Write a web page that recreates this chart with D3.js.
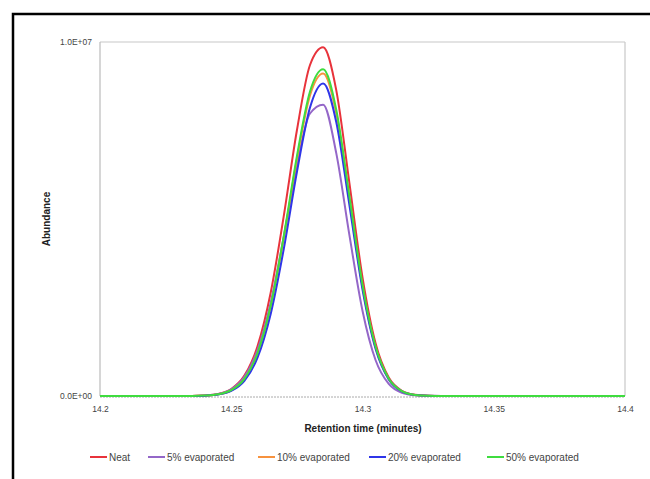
<!DOCTYPE html>
<html lang="en">
<head>
    <meta charset="UTF-8">
    <title>Retention time peak</title>
    <script src="https://d3js.org/d3.v7.min.js"></script>
    <style>
        body { margin: 0; padding: 0; background: #fff; }
        svg { display: block; font-family: "Liberation Sans", Arial, sans-serif; }
        .tick text { fill: #444; font-size: 8.5px; }
        .axis-title { font-size: 10px; font-weight: bold; fill: #222; }
        .legend text { font-size: 10px; fill: #444; }
    </style>
</head>
<body>
<div id="chart"></div>
<script>
    // retention times (minutes)
    const times = [14.2, 14.235, 14.24, 14.245, 14.25, 14.255, 14.26, 14.265, 14.27, 14.275, 14.28,
                   14.285, 14.29, 14.295, 14.3, 14.305, 14.31, 14.315, 14.32, 14.325, 14.33, 14.4];

    // abundance, in millions
    const neat   = [0, 0, 0.014, 0.058, 0.198, 0.575, 1.404, 2.91, 5.08, 7.50, 9.35, 9.85, 8.64, 6.02, 3.35, 1.48, 0.52, 0.147, 0.033, 0.006, 0.001, 0];
    const evap5  = [0, 0, 0.014, 0.057, 0.190, 0.540, 1.296, 2.63, 4.50, 6.51, 7.98, 8.23, 6.86, 4.55, 2.41, 1.01, 0.341, 0.091, 0.019, 0.003, 0, 0];
    const evap10 = [0, 0, 0.011, 0.047, 0.162, 0.479, 1.191, 2.50, 4.45, 6.68, 8.49, 9.11, 7.99, 5.57, 3.10, 1.37, 0.483, 0.136, 0.030, 0.005, 0.001, 0];
    const evap20 = [0, 0, 0.010, 0.041, 0.143, 0.429, 1.082, 2.31, 4.15, 6.32, 8.15, 8.83, 7.74, 5.40, 3.01, 1.33, 0.47, 0.132, 0.029, 0.005, 0.001, 0];
    const evap50 = [0, 0, 0.011, 0.047, 0.164, 0.485, 1.207, 2.54, 4.51, 6.77, 8.60, 9.23, 8.09, 5.65, 3.14, 1.39, 0.49, 0.138, 0.030, 0.006, 0.001, 0];

    const seriesNames = ["Neat", "5% evaporated", "10% evaporated", "20% evaporated", "50% evaporated"];
    const seriesValues = [neat, evap5, evap10, evap20, evap50];
    const seriesColors = ["#e8333b", "#9467c8", "#f7923e", "#2f35e8", "#3fdc3f"];

    const xTicks = [14.2, 14.25, 14.3, 14.35, 14.4];
    const xTickLabels = ["14.2", "14.25", "14.3", "14.35", "14.4"];
    const yTicks = [0, 10];
    const yTickLabels = ["0.0E+00", "1.0E+07"];

    const width = 650, height = 479;
    const plot = { left: 100, right: 625, top: 42, bottom: 396 };

    const svg = d3.select("#chart").append("svg")
        .attr("width", width)
        .attr("height", height);

    // outer chart frame (runs off the right and bottom edges)
    svg.append("rect")
        .attr("x", 13).attr("y", 14)
        .attr("width", 700).attr("height", 500)
        .attr("fill", "none")
        .attr("stroke", "#000")
        .attr("stroke-width", 2.5);

    const x = d3.scaleLinear().domain([14.2, 14.4]).range([plot.left, plot.right]);
    const y = d3.scaleLinear().domain([0, 10]).range([plot.bottom, plot.top]);

    // plot area borders
    svg.append("line")
        .attr("x1", plot.left).attr("x2", plot.right)
        .attr("y1", y(10)).attr("y2", y(10))
        .attr("stroke", "#c8c8c8").attr("stroke-width", 1.2);
    svg.append("line")
        .attr("x1", plot.right).attr("x2", plot.right)
        .attr("y1", plot.top).attr("y2", plot.bottom)
        .attr("stroke", "#c8c8c8").attr("stroke-width", 1.2);
    svg.append("line")
        .attr("x1", plot.left).attr("x2", plot.left)
        .attr("y1", plot.top).attr("y2", plot.bottom)
        .attr("stroke", "#bbb").attr("stroke-width", 1.2);
    svg.append("line")
        .attr("x1", plot.left).attr("x2", plot.right)
        .attr("y1", plot.bottom + 1).attr("y2", plot.bottom + 1)
        .attr("stroke", "#aaa").attr("stroke-width", 1)
        .attr("stroke-dasharray", "2,1");

    // axes
    const xAxis = d3.axisBottom(x)
        .tickValues(xTicks)
        .tickFormat((d, i) => xTickLabels[i])
        .tickSize(0)
        .tickPadding(10);
    svg.append("g")
        .attr("transform", `translate(0,${plot.bottom})`)
        .call(xAxis)
        .call(g => g.select(".domain").remove());

    const yAxis = d3.axisLeft(y)
        .tickValues(yTicks)
        .tickFormat((d, i) => yTickLabels[i])
        .tickSize(0)
        .tickPadding(8);
    svg.append("g")
        .attr("transform", `translate(${plot.left},0)`)
        .call(yAxis)
        .call(g => g.select(".domain").remove());

    // axis titles
    svg.append("text")
        .attr("class", "axis-title")
        .attr("x", 363)
        .attr("y", 432)
        .attr("text-anchor", "middle")
        .text("Retention time (minutes)");

    svg.append("text")
        .attr("class", "axis-title")
        .attr("transform", `translate(50,${(plot.top + plot.bottom) / 2}) rotate(-90)`)
        .attr("text-anchor", "middle")
        .text("Abundance");

    // series lines
    const line = d3.line()
        .x((d, i) => x(times[i]))
        .y(d => y(d))
        .curve(d3.curveMonotoneX);

    svg.append("g")
        .selectAll("path")
        .data(seriesValues)
        .enter()
        .append("path")
        .attr("d", d => line(d))
        .attr("fill", "none")
        .attr("stroke", (d, i) => seriesColors[i])
        .attr("stroke-width", 2);

    // legend
    const legendX = [90, 148, 258, 369, 487];
    const legend = svg.append("g").attr("class", "legend");
    seriesNames.forEach((name, i) => {
        const g = legend.append("g").attr("transform", `translate(${legendX[i]},457)`);
        g.append("line")
            .attr("x1", 0).attr("x2", 17)
            .attr("y1", 0).attr("y2", 0)
            .attr("stroke", seriesColors[i])
            .attr("stroke-width", 2);
        g.append("text")
            .attr("x", 19)
            .attr("y", 3.5)
            .text(name);
    });
</script>
</body>
</html>
